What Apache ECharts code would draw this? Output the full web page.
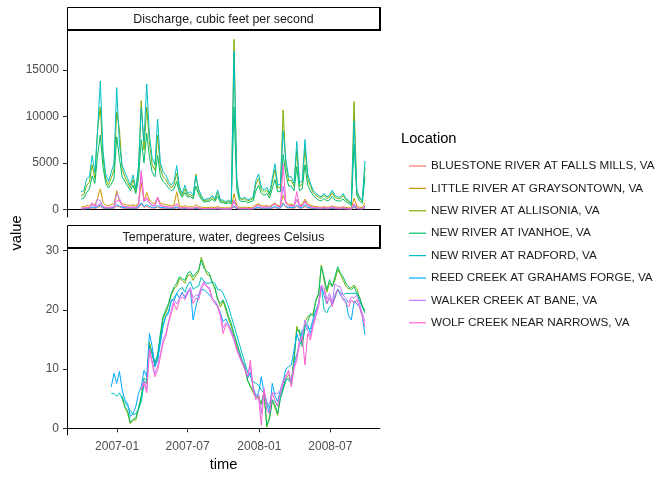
<!DOCTYPE html>
<html><head><meta charset="utf-8">
<script src="https://cdn.jsdelivr.net/npm/echarts@6/dist/echarts.min.js"></script>
<style>html,body{margin:0;padding:0;background:#fff;}#c{width:672px;height:480px;}</style>
</head><body><div id="c"></div>
<script>
const dates = [
'2006-10-01','2006-10-08','2006-10-15','2006-10-22','2006-10-29','2006-11-05','2006-11-12','2006-11-19','2006-11-26','2006-12-03',
'2006-12-10','2006-12-17','2006-12-24','2006-12-31','2007-01-07','2007-01-14','2007-01-21','2007-01-28','2007-02-04','2007-02-11',
'2007-02-18','2007-02-25','2007-03-04','2007-03-11','2007-03-18','2007-03-25','2007-04-01','2007-04-08','2007-04-15','2007-04-22',
'2007-04-29','2007-05-06','2007-05-13','2007-05-20','2007-05-27','2007-06-03','2007-06-10','2007-06-17','2007-06-24','2007-07-01',
'2007-07-08','2007-07-15','2007-07-22','2007-07-29','2007-08-05','2007-08-12','2007-08-19','2007-08-26','2007-09-02','2007-09-09',
'2007-09-16','2007-09-23','2007-09-30','2007-10-07','2007-10-14','2007-10-21','2007-10-28','2007-11-04','2007-11-11','2007-11-18',
'2007-11-25','2007-12-02','2007-12-09','2007-12-16','2007-12-23','2007-12-30','2008-01-06','2008-01-13','2008-01-20','2008-01-27',
'2008-02-03','2008-02-10','2008-02-17','2008-02-24','2008-03-02','2008-03-09','2008-03-16','2008-03-23','2008-03-30','2008-04-06',
'2008-04-13','2008-04-20','2008-04-27','2008-05-04','2008-05-11','2008-05-18','2008-05-25','2008-06-01','2008-06-08','2008-06-15',
'2008-06-22','2008-06-29','2008-07-06','2008-07-13','2008-07-20','2008-07-27','2008-08-03','2008-08-10','2008-08-17','2008-08-24',
'2008-08-31','2008-09-07','2008-09-14','2008-09-21','2008-09-28'];
const tempDates = dates.slice(11);

const locations = ['BLUESTONE RIVER AT FALLS MILLS, VA','LITTLE RIVER AT GRAYSONTOWN, VA','NEW RIVER AT ALLISONIA, VA','NEW RIVER AT IVANHOE, VA','NEW RIVER AT RADFORD, VA','REED CREEK AT GRAHAMS FORGE, VA','WALKER CREEK AT BANE, VA','WOLF CREEK NEAR NARROWS, VA'];
const colors = ['#F8766D','#CD9600','#7CAE00','#00BE67','#00BFC4','#00A9FF','#C77CFF','#FF61CC'];
const panelTitles = ['Discharge, cubic feet per second','Temperature, water, degrees Celsius'];
const xTickLabels = ['2007-01','2007-07','2008-01','2008-07'];
const dischargeTicks = [0,5000,10000,15000];
const tempTicks = [0,10,20,30];

// Discharge, cubic feet per second (weekly readings)
const qBluestone = [40,45,70,60,150,90,200,300,110,80,
75,90,110,350,250,120,100,90,80,100,
75,150,600,200,300,180,130,120,250,120,
110,100,85,75,80,150,60,50,65,45,
50,40,80,50,38,30,32,32,35,30,
50,28,27,25,27,25,250,60,35,32,
35,30,32,35,90,130,80,70,90,65,
110,180,95,95,700,200,130,130,110,300,
110,120,300,140,100,75,65,55,50,60,
50,55,90,55,50,48,60,42,35,28,
200,55,38,32,150];
const qLittle = [250,280,400,350,600,450,1200,2200,700,450,
400,500,600,2000,900,600,500,450,400,500,
350,700,2900,900,1800,1000,700,600,1300,650,
550,500,450,400,450,1900,350,280,400,250,
280,230,500,300,230,180,190,200,220,180,
300,170,160,150,170,160,1700,450,220,200,
220,190,200,220,500,600,400,350,400,300,
500,700,400,400,1500,800,550,550,450,1000,
450,500,1100,600,450,350,300,250,220,280,
220,250,330,250,220,220,280,200,170,130,
1200,350,220,170,700];
const qAllisonia = [1500,1600,2600,2900,4800,3300,8600,11000,5500,3200,
2600,3400,4200,10500,8600,4300,3500,2900,2300,3200,
1900,4200,11700,6400,11000,7200,4800,4200,8000,4400,
3500,3200,2700,2300,2700,3900,2100,1500,2200,1500,
1600,1300,3800,1900,1300,900,1000,1000,1300,1000,
1800,900,850,700,850,750,18300,3000,1200,1000,
1150,900,1000,1150,2700,3300,2100,1800,2100,1500,
2900,4300,2300,2400,10700,4700,3100,3100,2500,6300,
2500,2700,6600,3300,2500,1800,1500,1300,1200,1500,
1150,1300,1800,1300,1150,1150,1500,1000,850,550,
11600,1800,1150,850,4500];
const qIvanhoe = [1100,1200,1800,2200,3600,2800,5800,8000,4500,2800,
2300,2700,3300,7800,5500,3500,3000,2500,2000,2600,
1700,3300,7500,5000,8200,5600,4000,3500,5800,3600,
3000,2700,2300,2000,2200,3000,1800,1300,1800,1300,
1400,1100,2500,1600,1100,750,850,850,1100,850,
1400,750,700,600,700,600,11000,2200,950,800,
900,700,800,900,2000,2600,1700,1500,1700,1200,
2200,3200,1900,1900,5900,3800,2500,2500,2000,4600,
2000,2200,4800,2600,2000,1500,1200,1000,900,1150,
900,1000,1400,1000,900,900,1100,800,650,400,
7000,1500,900,650,3500];
const qRadford = [1900,2000,3300,3500,5800,4000,8500,13800,6200,3700,
3000,4000,4900,13100,7000,4700,4000,3300,2600,3700,
2200,4700,10900,7300,13500,8000,5500,4800,9700,5000,
4000,3700,3000,2600,3000,4700,2400,1700,2600,1700,
1900,1500,3600,2200,1500,1000,1150,1150,1500,1150,
2050,1000,1000,800,1000,800,17000,3300,1300,1150,
1300,1000,1150,1300,3100,3800,2400,2050,2400,1700,
3300,4900,2600,2700,8450,5300,3500,3500,2800,7300,
2800,3100,7500,3800,2800,2050,1700,1500,1330,1700,
1330,1500,2050,1500,1330,1330,1700,1150,970,610,
9500,2050,1330,970,5200];
const qReed = [60,70,110,100,250,150,300,450,180,130,
120,150,180,500,350,200,170,150,130,160,
120,250,700,300,500,300,220,200,400,200,
180,160,140,120,130,250,100,80,110,75,
80,65,130,80,60,45,50,50,55,45,
80,40,40,35,40,35,350,100,55,50,
55,45,50,55,150,200,130,110,140,100,
180,280,150,150,600,300,200,200,170,450,
170,190,500,220,160,120,100,90,80,95,
80,90,150,90,80,75,95,65,55,40,
300,90,60,50,250];
const qWalker = [100,110,180,160,500,250,1100,900,300,200,
180,220,280,1700,1200,350,280,230,200,250,
180,450,4200,800,1100,650,400,350,1300,380,
320,280,230,200,230,500,160,130,180,110,
120,100,220,130,95,70,80,80,90,70,
130,65,60,55,60,55,1000,180,90,80,
90,75,80,90,300,400,220,200,260,180,
350,550,280,280,2500,650,350,350,300,1100,
300,350,800,400,280,200,160,140,120,150,
120,140,250,140,120,110,150,90,75,55,
500,130,90,70,350];
const qWolf = [120,130,200,180,700,300,450,600,300,220,
200,250,300,900,1000,350,300,250,220,280,
200,500,4000,900,1300,700,450,400,1300,400,
350,300,250,220,250,600,180,150,200,130,
140,110,250,150,110,80,90,90,100,80,
150,75,70,65,70,65,800,200,100,90,
100,85,90,100,350,450,250,220,300,200,
400,600,300,300,4900,700,400,400,350,1900,
350,400,900,450,300,220,180,150,130,170,
130,150,300,150,130,120,170,100,80,60,
600,150,100,80,400];

// Temperature, water, degrees Celsius (weekly readings from 2006-12-17)
const tAllisonia = [null,null,null,null,5.0,3.6,2.5,0.8,1.4,1.4,
3.2,5.0,8.0,7.5,14.5,12.5,10.5,12.0,15.5,18.5,
19.5,20.8,22.5,23.5,24.0,25.3,25.0,24.5,25.8,26.0,
25.0,25.8,26.4,28.9,27.5,26.0,25.8,24.8,23.5,22.0,
20.5,21.5,20.0,18.5,17.2,15.5,14.0,12.5,11.2,10.0,
8.0,7.2,6.0,5.2,5.5,4.0,6.3,0.2,2.0,4.8,
3.5,2.2,5.5,7.0,8.5,9.0,8.0,12.0,17.2,16.0,
14.5,18.0,18.9,19.0,19.5,21.5,22.5,27.6,25.0,23.0,
24.5,24.0,25.0,26.8,26.0,25.0,24.0,23.5,23.8,24.2,
23.6,22.0,20.8,19.8];
const tIvanhoe = [null,null,null,null,5.5,3.6,3.0,1.0,1.5,1.8,
3.5,5.5,8.5,8.0,14.0,13.0,11.0,12.5,16.0,18.9,
20.0,21.1,22.8,23.9,24.5,25.6,25.3,25.0,26.2,26.5,
25.6,26.2,26.7,28.4,27.0,26.5,26.2,24.5,23.9,21.7,
21.1,21.7,20.5,18.9,17.7,16.0,14.5,13.0,11.5,10.4,
8.1,7.0,6.5,5.5,5.0,4.2,6.0,0.5,1.5,4.5,
4.0,2.5,5.0,6.5,8.0,8.5,7.5,11.5,16.5,16.6,
13.8,17.2,18.0,19.4,18.9,21.7,22.8,27.3,25.6,23.4,
25.1,23.9,25.6,27.3,26.2,25.6,24.5,23.9,23.4,23.9,
22.8,22.2,20.5,19.5];
const tRadford = [5.9,5.9,5.4,6.0,5.0,4.5,3.7,3.0,2.3,2.5,
3.2,4.5,7.5,8.0,13.5,12.5,11.0,12.0,15.0,17.5,
19.0,19.8,21.5,22.0,22.8,23.5,23.8,23.0,24.2,24.8,
23.5,23.8,24.0,25.5,24.8,24.5,24.5,24.8,24.5,23.4,
23.4,22.8,21.7,20.5,18.9,null,null,null,null,11.0,
9.5,8.7,7.9,7.6,7.3,6.5,5.9,4.5,3.5,4.8,
4.5,3.8,5.5,7.0,8.5,8.1,7.6,11.0,12.5,14.0,
15.0,16.5,17.0,16.8,18.5,20.0,21.1,24.0,20.0,19.5,
20.5,21.0,22.0,23.5,23.0,22.5,22.8,null,null,null,
22.8,21.5,20.5,20.0];
const tReed = [7.0,9.3,7.6,9.6,6.5,4.8,4.2,2.0,2.5,3.7,
5.9,7.0,9.8,8.7,16.0,13.8,10.4,11.5,14.4,17.2,
18.9,19.4,21.7,21.5,22.8,22.0,23.0,22.0,23.0,23.5,
18.3,20.5,22.5,23.5,23.4,23.0,22.5,22.0,21.5,20.5,
19.5,18.0,18.5,17.5,16.5,15.0,13.5,12.5,11.0,10.0,
8.5,9.5,7.0,5.5,6.0,8.7,6.0,4.0,2.5,7.6,
5.5,4.5,6.5,8.0,10.0,10.4,10.7,13.2,16.0,14.5,
16.6,17.0,17.5,16.0,18.0,19.5,21.0,24.0,22.5,21.0,
22.0,21.0,22.5,23.5,22.5,22.0,21.5,19.0,18.3,21.5,
21.0,20.5,19.0,15.8];
const tWalker = [null,null,null,null,null,null,null,null,null,null,
null,6.8,8.0,6.5,13.5,11.5,9.2,10.5,12.5,15.0,
16.0,18.0,20.0,21.7,21.0,22.0,22.8,22.3,23.2,23.8,
22.0,22.5,22.5,24.0,24.8,24.0,23.8,22.0,21.5,20.8,
19.3,17.0,17.8,17.5,16.3,15.2,13.5,12.3,11.3,10.0,
8.8,10.5,6.8,5.2,5.8,2.5,6.8,4.0,4.2,6.0,
5.9,5.9,6.5,8.0,9.0,9.5,8.0,10.5,12.0,15.0,
15.5,18.3,16.5,15.5,17.8,19.5,21.0,24.2,23.8,21.8,
22.8,21.2,24.4,24.0,23.9,22.5,22.0,21.2,22.2,22.0,
22.5,21.0,19.5,18.0];
const tWolf = [null,null,null,null,null,null,null,null,null,null,
null,6.5,7.6,6.0,13.2,11.0,8.7,9.8,12.0,14.4,
15.5,17.7,19.4,21.1,20.0,21.7,22.2,21.7,22.8,23.4,
21.1,22.0,21.7,23.4,24.5,23.9,23.5,21.7,21.1,20.5,
18.9,16.0,17.5,17.2,16.0,14.9,13.2,12.0,11.0,9.8,
8.7,11.5,6.5,4.8,5.3,0.5,6.5,3.0,2.5,5.9,
4.8,3.7,5.9,7.6,8.7,9.8,7.0,10.0,11.5,14.4,
15.5,10.7,16.0,14.9,17.2,18.9,20.5,23.9,23.4,21.1,
22.2,20.5,22.2,23.4,22.8,21.7,21.1,20.5,21.7,21.1,
21.7,20.5,18.9,17.2];

const discharge = [qBluestone,qLittle,qAllisonia,qIvanhoe,qRadford,qReed,qWalker,qWolf];
const temperature = [null,null,tAllisonia,tIvanhoe,tRadford,tReed,tWalker,tWolf];

const F = '"Liberation Sans", Arial, Helvetica, sans-serif';
function ts(s){ const p=s.split('-'); return Date.UTC(+p[0], +p[1]-1, +(p[2]||1)); }
function pairs(ds, vals){ return vals.map((v,i)=>[ts(ds[i]), v]); }
const xTickValues = xTickLabels.map(s => ts(s));
const xMin = Date.UTC(2006,7,25,12);
const xMax = Date.UTC(2008,10,5,12);
function fmtX(v){ const d=new Date(v); const m=d.getUTCMonth()+1; return d.getUTCFullYear()+'-'+(m<10?'0'+m:m); }
function fmtY(v){ return String(v); }

const series = [];
locations.forEach((name, k) => {
  series.push({name, type:'line', xAxisIndex:0, yAxisIndex:0, data:pairs(dates, discharge[k]),
    symbol:'none', showSymbol:false, connectNulls:true, lineStyle:{width:1, color:colors[k]}, itemStyle:{color:colors[k]},
    emphasis:{disabled:true}, animation:false});
});
locations.forEach((name, k) => {
  if (!temperature[k]) return;
  series.push({name, type:'line', xAxisIndex:1, yAxisIndex:1, data:pairs(tempDates, temperature[k]),
    symbol:'none', showSymbol:false, connectNulls:true, lineStyle:{width:1, color:colors[k]}, itemStyle:{color:colors[k]},
    emphasis:{disabled:true}, animation:false});
});

const axisLineStyle = {show:true, lineStyle:{color:'#000', width:1}};
const option = {
  animation:false,
  backgroundColor:'#fff',
  textStyle:{fontFamily:F},
  grid:[
    {left:67, top:30, width:313, height:187, containLabel:false},
    {left:67, top:248, width:313, height:187, containLabel:false}
  ],
  xAxis:[
    {gridIndex:0, type:'value', min:xMin, max:xMax, axisLine:axisLineStyle, splitLine:{show:false},
      axisTick:{show:false}, axisLabel:{show:false}},
    {gridIndex:1, type:'value', min:xMin, max:xMax, axisLine:axisLineStyle, splitLine:{show:false},
      axisTick:{show:true, length:4, customValues:xTickValues, lineStyle:{color:'#333'}},
      axisLabel:{show:true, customValues:xTickValues, formatter:fmtX, fontSize:12, color:'#4d4d4d', margin:6, fontFamily:F}}
  ],
  yAxis:[
    {gridIndex:0, type:'value', min:-829, max:19307, axisLine:axisLineStyle, splitLine:{show:false},
      axisTick:{show:true, length:4, customValues:dischargeTicks, lineStyle:{color:'#333'}},
      axisLabel:{show:true, customValues:dischargeTicks, formatter:fmtY, fontSize:12, color:'#4d4d4d', margin:8, fontFamily:F}},
    {gridIndex:1, type:'value', min:-1.13, max:30.46, axisLine:axisLineStyle, splitLine:{show:false},
      axisTick:{show:true, length:4, customValues:tempTicks, lineStyle:{color:'#333'}},
      axisLabel:{show:true, customValues:tempTicks, formatter:fmtY, fontSize:12, color:'#4d4d4d', margin:8, fontFamily:F}}
  ],
  legend:{
    orient:'vertical', left:404, top:155, icon:'rect', itemWidth:17, itemHeight:1.2, itemGap:10.4,
    selectedMode:false, data:locations,
    textStyle:{fontSize:11.7, lineHeight:12, color:'#1a1a1a', fontFamily:F}
  },
  graphic:[
    {type:'rect', shape:{x:67.5, y:7.5, width:312, height:22.5}, style:{fill:'#fff', stroke:'#000', lineWidth:1}},
    {type:'line', shape:{x1:67, y1:30, x2:381, y2:30}, style:{stroke:'#000', lineWidth:2}},
    {type:'line', shape:{x1:380, y1:7, x2:380, y2:31}, style:{stroke:'#000', lineWidth:2}},
    {type:'text', x:223.5, y:19.5, style:{text:panelTitles[0], fontSize:12.4, fill:'#1a1a1a', fontFamily:F, align:'center', verticalAlign:'middle'}},
    {type:'rect', shape:{x:67.5, y:225.5, width:312, height:22.5}, style:{fill:'#fff', stroke:'#000', lineWidth:1}},
    {type:'line', shape:{x1:67, y1:248, x2:381, y2:248}, style:{stroke:'#000', lineWidth:2}},
    {type:'line', shape:{x1:380, y1:225, x2:380, y2:249}, style:{stroke:'#000', lineWidth:2}},
    {type:'text', x:223.5, y:237.5, style:{text:panelTitles[1], fontSize:12.4, fill:'#1a1a1a', fontFamily:F, align:'center', verticalAlign:'middle'}},
    {type:'text', x:17, y:233, rotation:Math.PI/2, style:{text:'value', fontSize:14.7, fill:'#000', fontFamily:F, align:'center', verticalAlign:'middle'}},
    {type:'text', x:223.5, y:465, style:{text:'time', fontSize:14.7, fill:'#000', fontFamily:F, align:'center', verticalAlign:'middle'}},
    {type:'text', x:401, y:139, style:{text:'Location', fontSize:14.7, fill:'#000', fontFamily:F, align:'left', verticalAlign:'middle'}}
  ],
  series
};
const chart = echarts.init(document.getElementById('c'));
chart.setOption(option);
</script></body></html>
